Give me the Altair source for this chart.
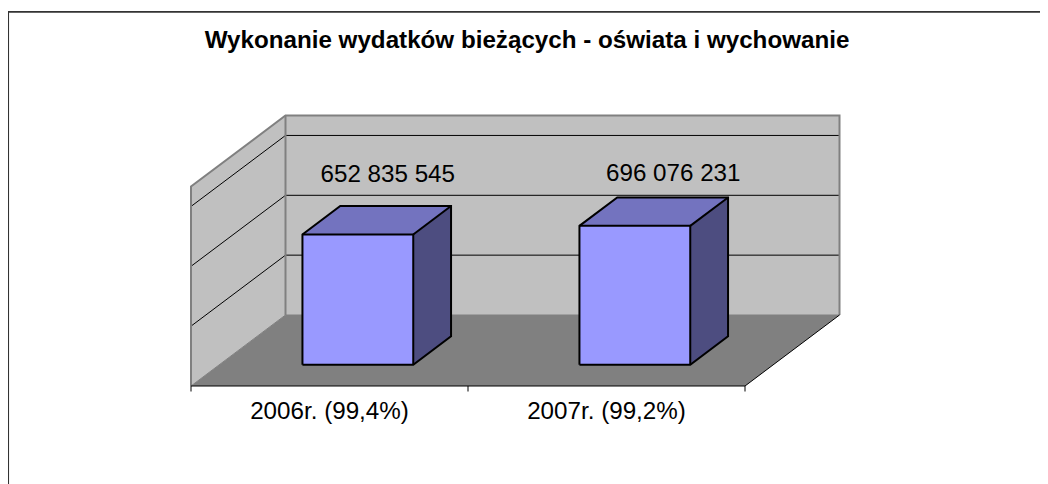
import altair as alt
import pandas as pd

# ---- chart values ----
categories = ["2006r. (99,4%)", "2007r. (99,2%)"]
values = [652835545, 696076231]
labels = ["652 835 545", "696 076 231"]
grid_values = [300e6, 600e6, 900e6]
axis_top = 1000e6
chart_title = "Wykonanie wydatków bieżących - oświata i wychowanie"

# ---- layout of the oblique projection ----
W, H = 1031, 476
PAD_LEFT = 1
PX_PER_CAT = 277.0
PX_PER_VAL = 199.5 / 1e9
ORIGIN_X, ORIGIN_Y = 191.0 - 8 - PAD_LEFT, 386.0 - 8
DEPTH_X, DEPTH_Y = 94.5, 71.0          # pixel shift of the full floor depth
BAR_U = 0.2                             # half bar width, in category units
BAR_D = (0.3, 0.7)                      # bar depth range
LABEL_DX = [11, 19.5]
LABEL_DY = [-24, -16]

x_scale = alt.Scale(domain=[-ORIGIN_X / PX_PER_CAT, (W - ORIGIN_X) / PX_PER_CAT], range=[0, W], nice=False, zero=False)
y_scale = alt.Scale(domain=[(ORIGIN_Y - H) / PX_PER_VAL, ORIGIN_Y / PX_PER_VAL], range=[H, 0], nice=False, zero=False)


def px(u, d):
    return u + d * DEPTH_X / PX_PER_CAT


def py(v, d):
    return v + d * DEPTH_Y / PX_PER_VAL


X = alt.X("x:Q", scale=x_scale, axis=None)
Y = alt.Y("y:Q", scale=y_scale, axis=None)


def poly_line(points, color, width):
    df = pd.DataFrame({"x": [p[0] for p in points], "y": [p[1] for p in points], "i": range(len(points))})
    return alt.Chart(df).mark_line(color=color, strokeWidth=width, strokeJoin="miter", clip=False).encode(X, Y, order="i:Q")


def band_h(rows, fill):
    df = pd.DataFrame(rows, columns=["y", "x", "x2"])
    return alt.Chart(df).mark_area(color=fill, orient="horizontal", opacity=1).encode(Y, X, alt.X2("x2:Q"))


def band_v(rows, fill):
    df = pd.DataFrame(rows, columns=["x", "y", "y2"])
    return alt.Chart(df).mark_area(color=fill, orient="vertical", opacity=1).encode(X, Y, alt.Y2("y2:Q"))


n = len(categories)
layers = []

# outer frame: only its left and top edges fall inside the picture
FRAME_L, FRAME_R, FRAME_T, FRAME_B = -0.8, W, 3.9, H
to_u = lambda p: (p - ORIGIN_X) / PX_PER_CAT
to_v = lambda p: (ORIGIN_Y - p) / PX_PER_VAL
layers.append(poly_line([(to_u(FRAME_L), to_v(FRAME_B)), (to_u(FRAME_L), to_v(FRAME_T)), (to_u(FRAME_R), to_v(FRAME_T))], "#333333", 1.7))

# back wall and side wall
layers.append(band_v([(px(0, 1), py(0, 1), py(axis_top, 1)), (px(n, 1), py(0, 1), py(axis_top, 1))], "#C0C0C0"))
layers.append(band_v([(px(0, 0), py(0, 0), py(axis_top, 0)), (px(0, 1), py(0, 1), py(axis_top, 1))], "#C0C0C0"))
# floor
layers.append(band_h([(py(0, 0), px(0, 0), px(n, 0)), (py(0, 1), px(0, 1), px(n, 1))], "#808080"))

# gridlines
for g in grid_values:
    layers.append(poly_line([(px(0, 0), py(g, 0)), (px(0, 1), py(g, 1)), (px(n, 1), py(g, 1))], "#000000", 1))

# wall outline
layers.append(poly_line([(px(0, 0), py(0, 0)), (px(0, 0), py(axis_top, 0)), (px(0, 1), py(axis_top, 1)), (px(n, 1), py(axis_top, 1)), (px(n, 1), py(0, 1))], "#808080", 2))
layers.append(poly_line([(px(0, 1), py(axis_top, 1)), (px(0, 1), py(0, 1))], "#808080", 2))
layers.append(poly_line([(px(0, 0), py(0, 0)), (px(0, 1), py(0, 1)), (px(n, 1), py(0, 1))], "#808080", 1))
# front floor edge with category ticks
layers.append(poly_line([(px(0, 0), py(0, 0)), (px(n, 0), py(0, 0)), (px(n, 1), py(0, 1))], "#000000", 1))
tick_len = 5.5 / PX_PER_VAL
for i in range(n + 1):
    layers.append(poly_line([(float(i), 0.0), (float(i), -tick_len)], "#000000", 1))

# bars
d0, d1 = BAR_D
for i, v in enumerate(values):
    ul, ur = i + 0.5 - BAR_U, i + 0.5 + BAR_U
    # top face
    layers.append(band_h([(py(v, d0), px(ul, d0), px(ur, d0)), (py(v, d1), px(ul, d1), px(ur, d1))], "#7373BF"))
    # side face
    layers.append(band_v([(px(ur, d0), py(0, d0), py(v, d0)), (px(ur, d1), py(0, d1), py(v, d1))], "#4D4D80"))
    # front face
    front = pd.DataFrame({"x": [px(ul, d0)], "x2": [px(ur, d0)], "y": [py(0, d0)], "y2": [py(v, d0)]})
    layers.append(alt.Chart(front).mark_rect(color="#9999FF").encode(X, alt.X2("x2:Q"), Y, alt.Y2("y2:Q")))
    # outlines
    outline = [(px(ul, d0), py(0, d0)), (px(ur, d0), py(0, d0)), (px(ur, d1), py(0, d1)), (px(ur, d1), py(v, d1)),
               (px(ul, d1), py(v, d1)), (px(ul, d0), py(v, d0)), (px(ul, d0), py(0, d0))]
    layers.append(poly_line(outline, "#000000", 2))
    layers.append(poly_line([(px(ul, d0), py(v, d0)), (px(ur, d0), py(v, d0)), (px(ur, d0), py(0, d0))], "#000000", 2))
    layers.append(poly_line([(px(ur, d0), py(v, d0)), (px(ur, d1), py(v, d1))], "#000000", 2))
    # value label
    lab = pd.DataFrame({"x": [px(i + 0.5, 0.5)], "y": [py(v, d1)], "t": [labels[i]]})
    layers.append(alt.Chart(lab).mark_text(font="Liberation Sans", fontSize=24.2, color="#000000", align="center", baseline="alphabetic", dx=LABEL_DX[i], dy=LABEL_DY[i]).encode(X, Y, text="t:N"))

# category labels
cat_df = pd.DataFrame({"x": [i + 0.5 for i in range(n)], "y": [0.0] * n, "t": categories})
layers.append(alt.Chart(cat_df).mark_text(font="Liberation Sans", fontSize=24.2, color="#000000", align="center", baseline="alphabetic", dy=33).encode(X, Y, text="t:N"))

# title
title_df = pd.DataFrame({"t": [chart_title]})
layers.append(alt.Chart(title_df).mark_text(font="Liberation Sans", fontSize=24.2, fontWeight="bold", color="#000000", align="center", baseline="alphabetic").encode(x=alt.value(518), y=alt.value(40), text="t:N"))

chart = alt.layer(*layers).properties(
    width=W, height=H,
    padding={"left": PAD_LEFT, "top": 0, "right": 0, "bottom": 0},
    autosize=alt.AutoSizeParams(type="none"),
    background="#FFFFFF",
).configure_view(stroke=None)
chart.save("out.html", embed_options={"renderer": "svg", "actions": False})
